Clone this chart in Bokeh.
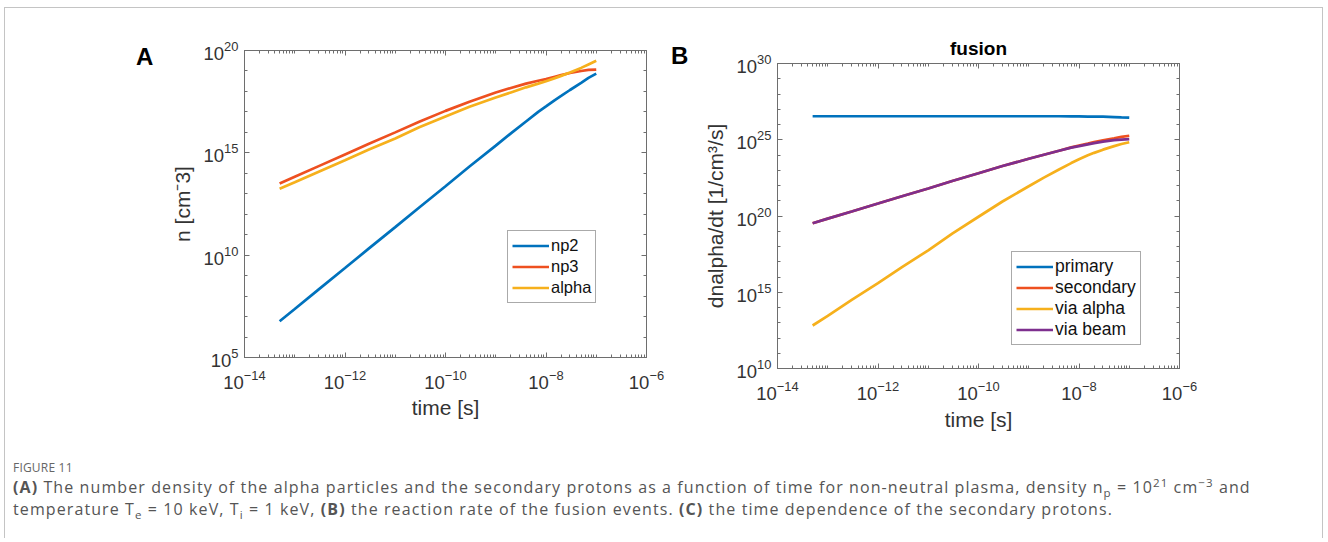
from bokeh.plotting import figure
from bokeh.models import (LogAxis, FixedTicker, Legend, LegendItem, Div,
                          CustomJSTickFormatter, Range1d)
from bokeh.layouts import column, row
from bokeh.embed import file_html
from bokeh.resources import INLINE

# ---------------- data (log10 of the values) -------------
time_s = [5e-14, 1e-13, 3e-13, 1e-12, 3e-12, 1e-11, 3e-11, 1e-10, 3e-10, 1e-9,
          2e-9, 4e-9, 7e-9, 1e-8, 1.5e-8, 2e-8, 3e-8, 5e-8, 7e-8, 1e-7]

# panel A: number density n [cm^-3]
np2_log10 = [6.77, 7.37, 8.33, 9.37, 10.33, 11.37, 12.33, 13.37, 14.33, 15.35,
             15.95, 16.53, 17.00, 17.27, 17.58, 17.78, 18.07, 18.42, 18.66, 18.87]
np3_log10 = [13.50, 13.83, 14.35, 14.92, 15.44, 16.00, 16.52, 17.05, 17.50, 17.95,
             18.17, 18.38, 18.52, 18.60, 18.72, 18.80, 18.90, 19.00, 19.05, 19.07]
alpha_log10 = [13.24, 13.56, 14.08, 14.64, 15.16, 15.70, 16.25, 16.78, 17.25, 17.70,
               17.95, 18.20, 18.38, 18.50, 18.65, 18.76, 18.92, 19.15, 19.32, 19.50]

# panel B: fusion reaction rates dnalpha/dt [1/cm^3/s]
primary_log10 = [26.54, 26.54, 26.54, 26.54, 26.54, 26.54, 26.54, 26.54, 26.54, 26.54,
                 26.54, 26.54, 26.53, 26.53, 26.52, 26.52, 26.51, 26.49, 26.47, 26.45]
secondary_log10 = [19.53, 19.83, 20.30, 20.82, 21.30, 21.80, 22.30, 22.80, 23.28, 23.75,
                   24.02, 24.28, 24.50, 24.62, 24.75, 24.85, 24.97, 25.10, 25.19, 25.26]
via_alpha_log10 = [12.82, 13.45, 14.50, 15.60, 16.65, 17.75, 18.85, 19.95, 20.95, 21.95,
                   22.52, 23.05, 23.47, 23.72, 23.98, 24.14, 24.35, 24.58, 24.72, 24.84]
via_beam_log10 = [19.53, 19.83, 20.30, 20.82, 21.30, 21.80, 22.30, 22.80, 23.28, 23.75,
                  24.02, 24.28, 24.48, 24.58, 24.70, 24.78, 24.88, 24.97, 25.01, 25.04]

x_major = [1e-14, 1e-12, 1e-10, 1e-8, 1e-6]
ya_major = [1e5, 1e10, 1e15, 1e20]
yb_major = [1e10, 1e15, 1e20, 1e25, 1e30]

labels_a = ["np2", "np3", "alpha"]
labels_b = ["primary", "secondary", "via alpha", "via beam"]

BLUE, RED, YELLOW, PURPLE = "#0072BD", "#EE5020", "#F6B01C", "#7E2F8E"
FONT = "Liberation Sans"
AX = "#6e6e6e"
TXT = "#333333"


def vals(lst):
    return [10 ** v for v in lst]


def minor_decades(lo, hi):
    return [10.0 ** e for e in range(lo, hi + 1)]


x_minor = [m * 10.0 ** e for e in range(-14, -6) for m in range(1, 10)]
blank = CustomJSTickFormatter(code="return ''")


def style_axes(p, xt, yt, xlab_standoff):
    bottom = p.below[0]
    left = p.left[0]
    for ax in (bottom, left):
        ax.axis_line_color = AX
        ax.major_tick_line_color = AX
        ax.minor_tick_line_color = AX
        ax.major_tick_in = 5
        ax.major_tick_out = 0
        ax.minor_tick_in = 3
        ax.minor_tick_out = 0
        ax.major_label_text_font = FONT
        ax.major_label_text_font_size = "18.5px"
        ax.major_label_text_color = TXT
        ax.axis_label_text_font = FONT
        ax.axis_label_text_font_size = "21px"
        ax.axis_label_text_font_style = "normal"
        ax.axis_label_text_color = TXT
    bottom.ticker = xt
    left.ticker = yt
    bottom.major_label_standoff = 12
    bottom.axis_label_standoff = xlab_standoff
    left.major_label_standoff = 6
    left.axis_label_standoff = 7
    top = LogAxis(ticker=xt, formatter=blank, major_label_text_font_size="0px")
    right = LogAxis(ticker=yt, formatter=blank, major_label_text_font_size="0px")
    for ax in (top, right):
        ax.axis_line_color = None
        ax.major_tick_line_color = AX
        ax.minor_tick_line_color = AX
        ax.major_tick_in = 5
        ax.major_tick_out = 0
        ax.minor_tick_in = 3
        ax.minor_tick_out = 0
        ax.major_label_standoff = 0
        ax.axis_label_standoff = 0
    p.add_layout(top, "above")
    p.add_layout(right, "right")
    p.outline_line_color = AX
    p.xgrid.visible = False
    p.ygrid.visible = False


def style_legend(lg, fs):
    lg.label_text_font = FONT
    lg.label_text_font_size = fs
    lg.label_text_color = "#111111"
    lg.glyph_width = 37
    lg.glyph_height = 21
    lg.label_height = 21
    lg.spacing = 0
    lg.padding = 4
    lg.margin = 0
    lg.label_standoff = 2
    lg.border_line_color = "#555555"
    lg.border_line_width = 1
    lg.background_fill_alpha = 1


def panel_letter(letter, w, left, top):
    return Div(text=('<div style="margin-left:%dpx;margin-top:%dpx;font-family:\'Liberation Sans\';'
                     'font-weight:bold;font-size:24px;line-height:24px;color:#000;">%s</div>'
                     % (left, top, letter)),
               width=w, height=430, margin=(0, 0, 0, 0))


# ---------------- panel A ----------------
xt_a = FixedTicker(ticks=x_major, minor_ticks=x_minor)
yt_a = FixedTicker(ticks=ya_major, minor_ticks=minor_decades(5, 20))
pA = figure(width=500, height=430, x_axis_type="log", y_axis_type="log",
            x_range=Range1d(1e-14, 1e-6), y_range=Range1d(1e5, 1e20),
            min_border_left=79, min_border_right=19, min_border_top=42,
            min_border_bottom=81, output_backend="svg", toolbar_location=None,
            x_axis_label="time [s]", y_axis_label="n [cm\u207b3]")
rA = []
for ys, c in zip([np2_log10, np3_log10, alpha_log10], [BLUE, RED, YELLOW]):
    rA.append(pA.line(time_s, vals(ys), line_color=c, line_width=2.7))
style_axes(pA, xt_a, yt_a, 4)
legA = Legend(items=[LegendItem(label=l, renderers=[r]) for l, r in zip(labels_a, rA)],
              location=(263, 54))
style_legend(legA, "16.5px")
pA.add_layout(legA)

# ---------------- panel B ----------------
xt_b = FixedTicker(ticks=x_major, minor_ticks=x_minor)
yt_b = FixedTicker(ticks=yb_major, minor_ticks=minor_decades(10, 30))
pB = figure(width=622, height=430, x_axis_type="log", y_axis_type="log",
            x_range=Range1d(1e-14, 1e-6), y_range=Range1d(1e10, 1e30),
            min_border_left=77, min_border_right=143, min_border_top=55,
            min_border_bottom=70, output_backend="svg", toolbar_location=None,
            title="fusion",
            x_axis_label="time [s]", y_axis_label="dnalpha/dt [1/cm\u00b3/s]")
pB.title.align = "center"
pB.title.text_font = FONT
pB.title.text_font_size = "19px"
pB.title.text_font_style = "bold"
pB.title.text_color = "#000000"
pB.title.standoff = 10
rB = []
for ys, c in zip([primary_log10, secondary_log10, via_alpha_log10, via_beam_log10],
                 [BLUE, RED, YELLOW, PURPLE]):
    rB.append(pB.line(time_s, vals(ys), line_color=c, line_width=2.7))
style_axes(pB, xt_b, yt_b, 5)
legB = Legend(items=[LegendItem(label=l, renderers=[r]) for l, r in zip(labels_b, rB)],
              location=(234, 23))
style_legend(legB, "17.5px")
pB.add_layout(legB)

letterA = panel_letter("A", 160, 131, 37)
letterB = panel_letter("B", 35, 6, 36)

# ---------------- caption ----------------
SS = 'style="line-height:0;font-size:0.72em"'
caption_html = (
    '<div style="font-family:\'Open Sans\';font-size:12px;color:#666;letter-spacing:0.2px;'
    'line-height:16px;margin-bottom:0px;">FIGURE 11</div>'
    '<div style="font-family:\'Open Sans\';font-size:16px;color:#555;line-height:22px;'
    'letter-spacing:1.1px;white-space:nowrap;">'
    '<b>(A)</b> The number density of the alpha particles and the secondary protons as a '
    'function of time for non-neutral plasma, density n<sub ' + SS + '>p</sub> = 10<sup '
    + SS + '>21</sup> cm<sup ' + SS + '>\u22123</sup> and<br>temperature T<sub ' + SS +
    '>e</sub> = 10 keV, T<sub ' + SS + '>i</sub> = 1 keV, '
    '<b>(B)</b> the reaction rate of the fusion events. <b>(C)</b> the time dependence of '
    'the secondary protons.</div>'
)
cap = Div(text=caption_html, width=1310, height=100, margin=(0, 0, 0, 0),
          styles={"padding-left": "8px", "padding-top": "22px"})

layout = column(row(letterA, column(pA), letterB, column(pB)), cap, margin=(7, 0, 0, 4),
                styles={"border-top": "1px solid #c4c4c4", "border-left": "1px solid #c4c4c4",
                        "border-right": "1px solid #c4c4c4"})

with open("out.html", "w") as f:
    f.write(file_html(layout, INLINE))
